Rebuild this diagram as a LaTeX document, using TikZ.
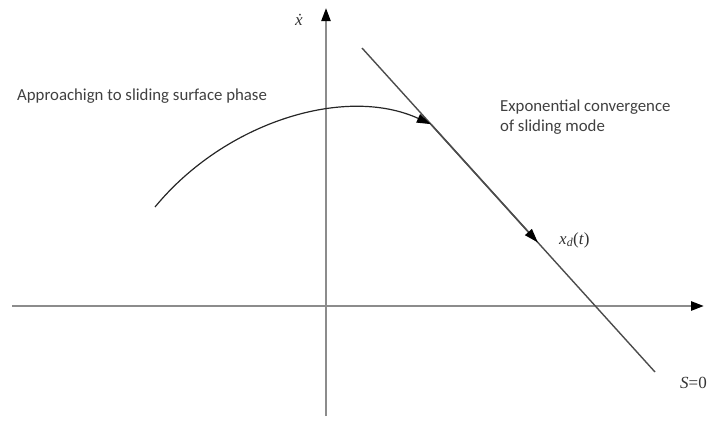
\documentclass[tikz,border=0pt]{standalone}
\usepackage{fontspec}
\setmainfont{Liberation Serif}
\newfontfamily\lblfont{Carlito}
\usetikzlibrary{arrows.meta,calc}
\begin{document}
\begin{tikzpicture}[x=1pt,y=-1pt,
  axis/.style={draw=black!45,line width=2.6pt,-{Triangle[length=13pt,width=9pt,color=black]}},
  slideline/.style={draw=black!70,line width=1.4pt},
  traj/.style={draw=black!85,line width=1.2pt},
  tipb/.style={-{Triangle[length=14pt,width=9pt,color=black]}},
  lbl/.style={font=\lblfont\fontsize{16.8}{20}\selectfont,text=black!75,inner sep=0pt},
  mlbl/.style={font=\fontsize{17}{19}\selectfont,text=black!80,inner sep=0pt}]
\useasboundingbox (0,0) rectangle (709,423);
\clip (0,0) rectangle (709,423);
% axes
\coordinate (xl) at (12,306);
\coordinate (xr) at (704,306);
\coordinate (yb) at (326,416);
\coordinate (yt) at (326,8);
\draw[axis] (xl) -- (xr);
\draw[axis,line width=2.2pt] (yb) -- (yt);
% sliding line
\coordinate (A) at (362,48);
\coordinate (B) at (655,372);
\draw[slideline] (A) -- (B);
\coordinate (P) at ($(A)!0.235!(B)$);
\coordinate (Q) at ($(A)!0.60!(B)$);
\draw[slideline,line width=1.6pt,tipb] (P) -- (Q);
% approaching trajectory
\coordinate (C0) at (155,207);
\draw[traj,tipb] (C0) .. controls (225,122) and (345,85) .. (P);
% labels
\node[mlbl] (xd) at (299,20) {\textit{ẋ}};
\node[lbl,anchor=west] (appr) at (17,96) {Approachign to sliding surface phase};
\node[lbl,anchor=west,align=left] (expc) at (500,117) {Exponential convergence\\of sliding mode};
\node[mlbl,anchor=west] (xdt) at (559,240) {\textit{x}\textsubscript{\textit{d}}(\textit{t})};
\node[mlbl,anchor=west] (sl) at (680,383) {\textit{S}=0};
\end{tikzpicture}
\end{document}
